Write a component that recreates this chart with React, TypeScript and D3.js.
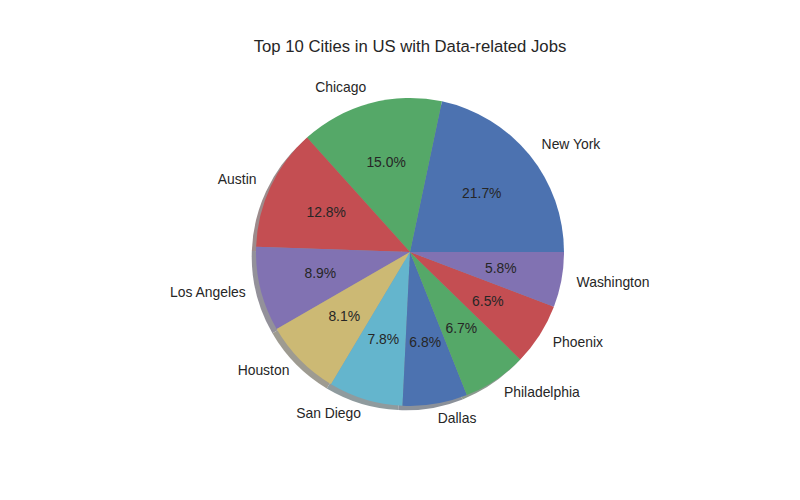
import { useEffect, useRef } from 'react';
import * as d3 from 'd3';

const cities = ['New York', 'Chicago', 'Austin', 'Los Angeles', 'Houston', 'San Diego', 'Dallas', 'Philadelphia', 'Phoenix', 'Washington'];
const shares = [21.7, 15.0, 12.8, 8.9, 8.1, 7.8, 6.8, 6.7, 6.5, 5.8];
const palette = ['#4C72B0', '#55A868', '#C44E52', '#8172B2', '#CCB974', '#64B5CD'];

const App = () => {
  const svgRef = useRef<SVGSVGElement>(null);

  useEffect(() => {
    const width = 800;
    const height = 500;
    const cx = 410;
    const cy = 252;
    const r = 154;
    const shadowOff = r * 0.02 * 100 / 72;

    const svg = d3.select(svgRef.current);
    svg.selectAll('*').remove();
    svg.attr('width', width).attr('height', height);

    const data = cities.map((c, i) => ({ city: c, value: shares[i], color: palette[i % palette.length] }));
    const total = d3.sum(shares);

    // counterclockwise from 3 o'clock, like matplotlib
    const pie = d3.pie<any>()
      .value(d => d.value)
      .sort(null)
      .startAngle(Math.PI / 2)
      .endAngle(Math.PI / 2 - 2 * Math.PI);

    const arcs = pie(data);
    const arc = d3.arc<any>().innerRadius(0).outerRadius(r);

    const shadowColor = (c: string) => {
      const rgb = d3.rgb(c);
      const mix = (v: number) => Math.round(0.5 * v * 0.3 + 0.5 * 255);
      return d3.rgb(mix(rgb.r), mix(rgb.g), mix(rgb.b)).toString();
    };

    const shadow = svg.append('g')
      .attr('transform', `translate(${cx - shadowOff},${cy + shadowOff})`);
    shadow.selectAll('path')
      .data(arcs)
      .enter()
      .append('path')
      .attr('d', arc)
      .attr('fill', d => shadowColor(d.data.color));

    const g = svg.append('g').attr('transform', `translate(${cx},${cy})`);

    g.selectAll('path')
      .data(arcs)
      .enter()
      .append('path')
      .attr('d', arc)
      .attr('fill', d => d.data.color);

    const mid = (d: any) => (d.startAngle + d.endAngle) / 2;

    // city labels at 1.1 r
    g.selectAll('text.label')
      .data(arcs)
      .enter()
      .append('text')
      .attr('class', 'label')
      .attr('x', d => Math.sin(mid(d)) * r * 1.1)
      .attr('y', d => -Math.cos(mid(d)) * r * 1.1 - 1)
      .attr('text-anchor', d => Math.sin(mid(d)) > 0 ? 'start' : 'end')
      .attr('dominant-baseline', 'central')
      .style('font-family', 'Arial, "Liberation Sans", sans-serif')
      .style('font-size', '13.9px')
      .attr('fill', '#262626')
      .text(d => d.data.city);

    // percentages at 0.6 r
    g.selectAll('text.pct')
      .data(arcs)
      .enter()
      .append('text')
      .attr('class', 'pct')
      .attr('x', d => Math.sin(mid(d)) * r * 0.6)
      .attr('y', d => -Math.cos(mid(d)) * r * 0.6 - 1)
      .attr('text-anchor', 'middle')
      .attr('dominant-baseline', 'central')
      .style('font-family', 'Arial, "Liberation Sans", sans-serif')
      .style('font-size', '13.9px')
      .attr('fill', '#262626')
      .text(d => `${(d.data.value / total * 100).toFixed(1)}%`);

    svg.append('text')
      .attr('x', cx)
      .attr('y', 46)
      .attr('text-anchor', 'middle')
      .attr('dominant-baseline', 'central')
      .style('font-family', 'Arial, "Liberation Sans", sans-serif')
      .style('font-size', '16.7px')
      .attr('fill', '#262626')
      .text('Top 10 Cities in US with Data-related Jobs');
  }, []);

  return <svg ref={svgRef} style={{ position: 'absolute', left: 0, top: 0 }}></svg>;
};

export default App;
